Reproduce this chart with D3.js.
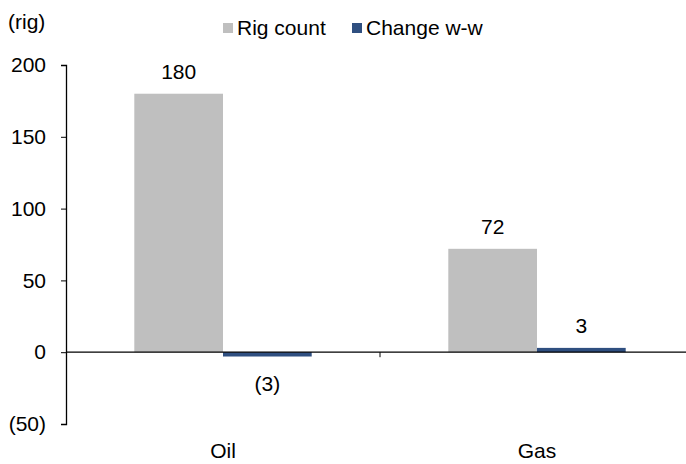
<!DOCTYPE html>
<html><head><meta charset="utf-8">
<script src="https://cdn.jsdelivr.net/npm/d3@7"></script>
<style>body{margin:0;background:#fff}svg{display:block}text{font-family:"Liberation Sans",Arial,sans-serif;fill:#000}</style>
</head><body><svg id="c" width="686" height="464"></svg>
<script>
const categories = ["Oil", "Gas"];
const seriesNames = ["Rig count", "Change w-w"];
const rigCount = [180, 72];
const changeWW = [-3, 3];
const yTicks = [-50, 0, 50, 100, 150, 200];
const colors = ["#BFBFBF", "#2F4F80"];

const FS = 21;
const fmt = v => v < 0 ? `(${Math.abs(v)})` : `${v}`;
const svg = d3.select("#c");
const x0 = d3.scaleBand().domain(categories).range([66, 694]).paddingInner(0).paddingOuter(0);
const x1 = d3.scaleBand().domain(seriesNames).range([0, x0.bandwidth()]).paddingInner(0).paddingOuter(0.77);
const y = d3.scaleLinear().domain([-50, 200]).range([424, 65]);

// y axis
const yAxis = svg.append("g").attr("transform", "translate(66,0)")
  .call(d3.axisLeft(y).tickValues(yTicks).tickFormat(fmt).tickSize(5).tickPadding(15));
yAxis.select(".domain").attr("stroke", "#000").attr("stroke-width", 1.3);
yAxis.selectAll(".tick line").attr("stroke", "#000");
yAxis.selectAll(".tick text").attr("font-size", FS).attr("font-family", '"Liberation Sans",Arial,sans-serif');

const data = categories.map((c, i) => ({c, vals: [rigCount[i], changeWW[i]]}));
const g = svg.append("g");
data.forEach(d => {
  d.vals.forEach((v, j) => {
    const xx = x0(d.c) + x1(seriesNames[j]);
    g.append("rect").attr("x", xx).attr("width", x1.bandwidth())
      .attr("y", y(Math.max(0, v))).attr("height", Math.abs(y(v) - y(0)))
      .attr("fill", colors[j]);
    g.append("text").attr("x", xx + x1.bandwidth() / 2)
      .attr("y", v >= 0 ? y(v) - 15 : y(v) + 34)
      .attr("text-anchor", "middle").attr("font-size", FS).text(fmt(v));
  });
});

// x axis at zero
const xAxis = svg.append("g").attr("transform", `translate(0,${y(0)})`);
xAxis.append("line").attr("x1", 66).attr("x2", 694).attr("stroke", "#000").attr("stroke-width", 1.3);
xAxis.append("line").attr("x1", x0("Gas")).attr("x2", x0("Gas")).attr("y1", 0).attr("y2", 5).attr("stroke", "#000");
categories.forEach(c => {
  svg.append("text").attr("x", x0(c) + x0.bandwidth() / 2).attr("y", 458)
    .attr("text-anchor", "middle").attr("font-size", FS).text(c);
});

svg.append("text").attr("x", 8).attr("y", 29).attr("font-size", FS).text("(rig)");

// legend
const leg = svg.append("g");
const legX = [223, 352];
seriesNames.forEach((s, j) => {
  leg.append("rect").attr("x", legX[j]).attr("y", 23).attr("width", 10).attr("height", 10).attr("fill", colors[j]);
  leg.append("text").attr("x", legX[j] + 14).attr("y", 35).attr("font-size", FS).text(s);
});
</script></body></html>
